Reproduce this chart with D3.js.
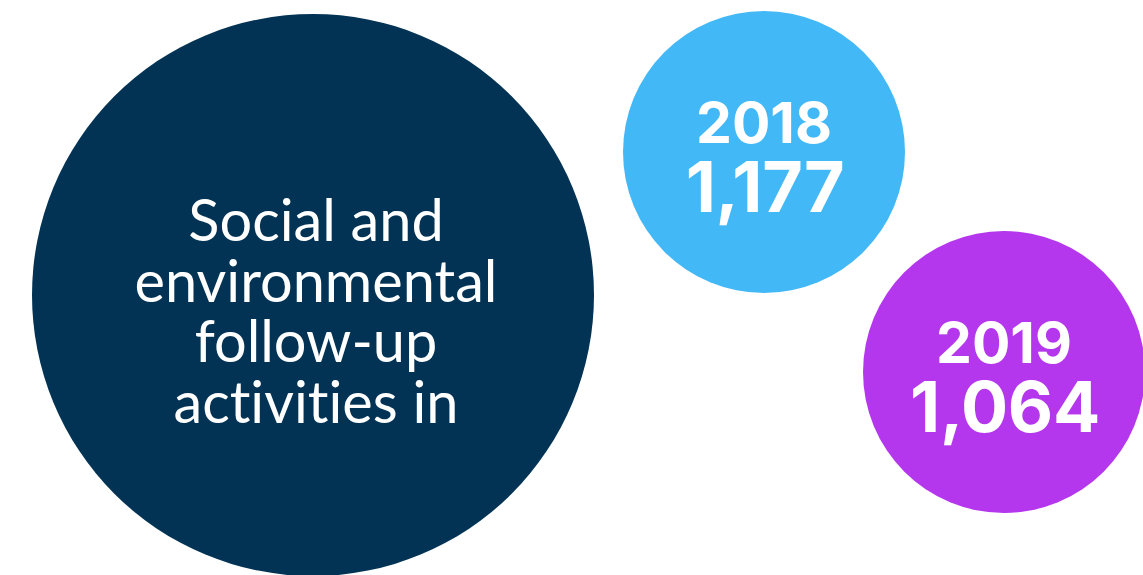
<!DOCTYPE html>
<html>
<head>
<meta charset="utf-8">
<script src="https://cdn.jsdelivr.net/npm/d3@7"></script>
<style>
  html, body { margin: 0; padding: 0; background: #ffffff; overflow: hidden; }
  svg { display: block; }
  .title { font-variant-ligatures: none; font-feature-settings: "liga" 0, "clig" 0; }
  .num { font-variant-numeric: proportional-nums; font-feature-settings: "pnum" 1; }
</style>
</head>
<body>
<script>
// ---- data ----
const titleLines = ["Social and", "environmental", "follow-up", "activities in"];
const years = ["2018", "2019"];
const values = [1177, 1064];
const yearColors = ["#43B8F7", "#B437EE"];
const titleColor = "#023354";

// ---- layout ----
const W = 1143, H = 575;
const svg = d3.select("body").append("svg").attr("width", W).attr("height", H);

const big = { cx: 313, cy: 295, r: 281 };
const small = [{ cx: 764, cy: 152 }, { cx: 1004, cy: 372 }];
const smallR = 141;

// big circle
svg.append("circle")
  .attr("cx", big.cx).attr("cy", big.cy).attr("r", big.r)
  .attr("fill", titleColor);

const lineY = d3.scaleLinear().domain([0, titleLines.length - 1]).range([big.cy - 54, big.cy + 127.5]);
const title = svg.append("g").selectAll("text")
  .data(titleLines).join("text")
  .attr("class", "title")
  .attr("x", big.cx + 3)
  .attr("y", (d, i) => lineY(i))
  .attr("text-anchor", "middle")
  .attr("fill", "#ffffff")
  .attr("font-family", "Lato, 'Open Sans', sans-serif")
  .attr("font-size", 56)
  .text(d => d);

// fit "environmental" width to ~361px
const envNode = title.filter(d => d === "environmental").node();
const w0 = envNode.getComputedTextLength();
title.attr("font-size", 56 * 363 / w0);

// year bubbles
const fmt = d3.format(",");
const g = svg.append("g").selectAll("g")
  .data(years.map((y, i) => ({ year: y, value: values[i], color: yearColors[i], pos: small[i] })))
  .join("g")
  .attr("transform", d => `translate(${d.pos.cx},${d.pos.cy})`);

g.append("circle").attr("r", smallR).attr("fill", d => d.color);

g.append("text")
  .attr("class", "num")
  .attr("y", -9)
  .attr("text-anchor", "middle")
  .attr("fill", "#ffffff")
  .attr("font-family", "Inter, 'Liberation Sans', sans-serif")
  .attr("font-weight", "bold")
  .attr("font-size", 57)
  .attr("letter-spacing", 0)
  .text(d => d.year);

g.append("text")
  .attr("class", "num")
  .attr("x", 1)
  .attr("y", 60)
  .attr("text-anchor", "middle")
  .attr("fill", "#ffffff")
  .attr("font-family", "Inter, 'Liberation Sans', sans-serif")
  .attr("font-weight", "bold")
  .attr("font-size", 70)
  .attr("letter-spacing", -0.3)
  .text(d => fmt(d.value));
</script>
</body>
</html>
